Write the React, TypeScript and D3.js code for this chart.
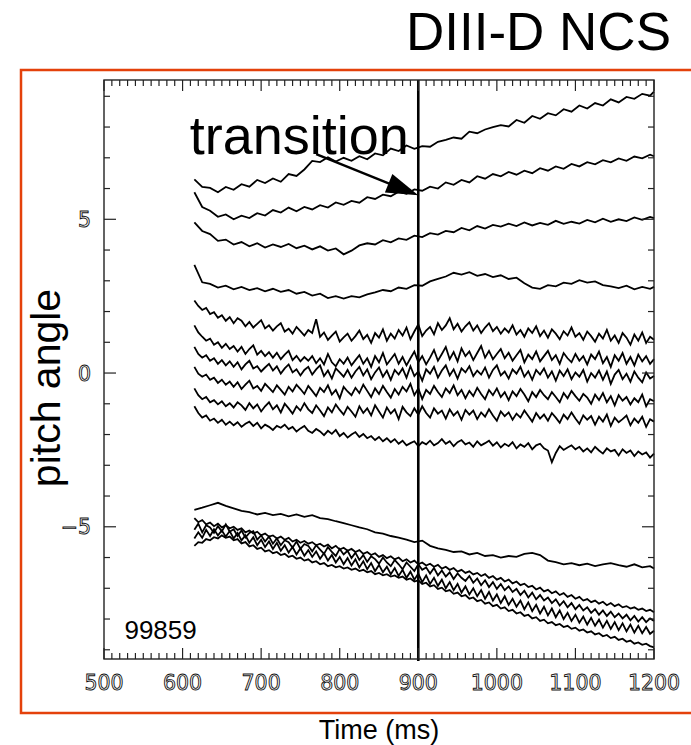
import React from 'react';
import * as d3 from 'd3';

// Time samples (ms)
const TIMES_10: number[] = [...d3.range(615, 1200, 10), 1200];
const TIMES_5: number[] = d3.range(615, 1201, 5);
const X_TICK_LABELS = [500, 600, 700, 800, 900, 1000, 1100, 1200];
const Y_TICK_LABELS = [-5, 0, 5];
const TRANSITION_TIME = 900;
const SHOT = '99859';

// Pitch-angle traces (deg), sampled every 10 ms
const TRACE_01 = [
  6.30, 6.05, 6.02, 5.88, 6.05, 5.96, 6.14, 6.06, 6.28, 6.18,
  6.33, 6.22, 6.47, 6.41, 6.62, 6.90, 6.86, 7.02, 6.88, 7.00,
  6.90, 7.05, 6.95, 7.14, 7.08, 7.30, 7.22, 7.40, 7.29, 7.38,
  7.36, 7.52, 7.58, 7.66, 7.62, 7.85, 7.80, 7.92, 8.00, 8.06,
  8.02, 8.23, 8.14, 8.36, 8.27, 8.45, 8.38, 8.58, 8.50, 8.70,
  8.60, 8.78, 8.70, 8.90, 8.80, 8.98, 8.92, 9.08, 9.02, 9.15,
];
const TRACE_02 = [
  5.88, 5.40, 5.28, 5.08, 5.16, 5.00, 5.12, 5.04, 5.20, 5.12,
  5.30, 5.22, 5.38, 5.26, 5.40, 5.32, 5.46, 5.38, 5.55, 5.47,
  5.60, 5.54, 5.72, 5.66, 5.80, 5.75, 5.90, 5.83, 5.97, 5.93,
  6.06, 6.00, 6.20, 6.12, 6.28, 6.20, 6.40, 6.32, 6.47, 6.40,
  6.54, 6.45, 6.58, 6.50, 6.66, 6.58, 6.72, 6.64, 6.80, 6.72,
  6.86, 6.79, 6.92, 6.85, 6.98, 6.90, 7.04, 6.98, 7.10, 7.05,
];
const TRACE_03 = [
  4.90, 4.62, 4.52, 4.30, 4.34, 4.18, 4.26, 4.12, 4.22, 4.08,
  4.18, 4.10, 4.20, 4.06, 4.14, 4.02, 4.12, 3.98, 4.05, 3.86,
  3.98, 4.15, 4.22, 4.18, 4.32, 4.25, 4.38, 4.33, 4.47, 4.42,
  4.55, 4.50, 4.62, 4.58, 4.72, 4.64, 4.78, 4.70, 4.82, 4.76,
  4.86, 4.78, 4.90, 4.80, 4.88, 4.82, 4.95, 4.85, 4.92, 4.86,
  4.98, 4.90, 5.02, 4.92, 5.00, 4.94, 5.06, 4.98, 5.08, 5.04,
];
const TRACE_04 = [
  3.52, 2.95, 2.90, 2.78, 2.84, 2.72, 2.80, 2.70, 2.76, 2.66,
  2.74, 2.64, 2.70, 2.58, 2.64, 2.52, 2.58, 2.44, 2.50, 2.42,
  2.50, 2.46, 2.56, 2.62, 2.70, 2.66, 2.78, 2.74, 2.86, 2.84,
  2.98, 3.06, 3.14, 3.26, 3.20, 3.28, 3.16, 3.22, 3.12, 3.18,
  3.06, 3.10, 2.92, 2.78, 2.74, 2.86, 2.82, 2.94, 2.90, 3.02,
  2.94, 2.98, 2.86, 2.82, 2.76, 2.84, 2.72, 2.80, 2.74, 2.80,
];
const TRACE_11 = [
  -4.45, -4.38, -4.30, -4.22, -4.32, -4.40, -4.48, -4.52, -4.60, -4.55,
  -4.62, -4.58, -4.66, -4.60, -4.68, -4.62, -4.72, -4.75, -4.82, -4.88,
  -4.95, -5.02, -5.08, -5.18, -5.22, -5.30, -5.35, -5.42, -5.50, -5.45,
  -5.62, -5.70, -5.75, -5.82, -5.80, -5.90, -5.85, -5.95, -5.92, -6.00,
  -5.95, -5.98, -5.88, -5.85, -5.92, -6.10, -6.15, -6.22, -6.18, -6.25,
  -6.20, -6.28, -6.22, -6.18, -6.25, -6.30, -6.22, -6.32, -6.28, -6.36,
];

// Noisier traces, sampled every 5 ms
const TRACE_05 = [
  2.36, 2.18, 2.05, 2.12, 1.92, 1.98, 1.80, 1.88, 1.70, 1.82,
  1.62, 1.78, 1.70, 1.52, 1.66, 1.48, 1.60, 1.72, 1.45, 1.55,
  1.38, 1.52, 1.62, 1.35, 1.44, 1.28, 1.50, 1.36, 1.22, 1.40,
  1.30, 1.75, 1.18, 1.32, 1.08, 1.22, 1.35, 1.02, 1.16, 1.28,
  1.05, 1.20, 1.38, 1.10, 1.24, 0.98, 1.30, 1.15, 1.42, 1.05,
  1.28, 1.12, 1.40, 1.22, 1.48, 1.10, 1.35, 1.58, 1.20, 1.38,
  1.50, 1.26, 1.62, 1.40, 1.55, 1.78, 1.42, 1.60, 1.35, 1.52,
  1.65, 1.38, 1.55, 1.30, 1.48, 1.62, 1.36, 1.50, 1.28, 1.45,
  1.32, 1.55, 1.25, 1.40, 1.18, 1.45, 1.30, 1.52, 1.20, 1.38,
  1.15, 1.42, 1.28, 1.10, 1.36, 1.22, 1.48, 1.18, 1.30, 1.08,
  1.35, 1.20, 1.02, 1.28, 1.12, 1.40, 1.05, 1.22, 0.98, 1.30,
  1.15, 0.92, 1.25, 1.05, 1.32, 0.98, 1.18, 1.08,
];
const TRACE_06 = [
  1.55, 1.32, 1.18, 1.05, 1.12, 0.92, 1.00, 0.82, 0.95, 0.78,
  0.88, 0.70, 0.85, 0.62, 0.78, 0.90, 0.60, 0.72, 0.55, 0.68,
  0.50, 0.66, 0.45, 0.60, 0.72, 0.42, 0.56, 0.38, 0.52, 0.40,
  0.55, 0.32, 0.48, 0.28, 0.62, 0.35, 0.22, 0.45, 0.30, 0.50,
  0.25, 0.42, 0.58, 0.30, 0.48, 0.20, 0.55, 0.35, 0.65, 0.28,
  0.45, 0.62, 0.30, 0.52, 0.25, 0.48, 0.70, 0.35, 0.55, 0.28,
  0.50, 0.75, 0.40, 0.62, 0.85, 0.45, 0.68, 0.38, 0.80, 0.55,
  0.70, 0.42, 0.65, 0.88, 0.50, 0.72, 0.45, 0.62, 0.78, 0.48,
  0.66, 0.40, 0.58, 0.75, 0.35, 0.60, 0.45, 0.70, 0.38, 0.55,
  0.72, 0.42, 0.58, 0.30, 0.65, 0.48, 0.35, 0.62, 0.40, 0.55,
  0.28, 0.60, 0.45, 0.70, 0.32, 0.52, 0.20, 0.58, 0.40, 0.65,
  0.30, 0.52, 0.25, 0.60, 0.38, 0.55, 0.30, 0.45,
];
const TRACE_07 = [
  0.85, 0.62, 0.50, 0.58, 0.40, 0.48, 0.30, 0.42, 0.25, 0.38,
  0.20, 0.35, 0.12, 0.28, 0.40, 0.15, 0.22, 0.05, 0.18, 0.30,
  0.08, 0.22, -0.02, 0.15, 0.28, 0.02, 0.12, -0.08, 0.10, 0.20,
  -0.05, 0.12, 0.25, -0.10, 0.08, -0.18, 0.15, 0.02, -0.12, 0.10,
  -0.15, 0.05, 0.20, -0.08, 0.12, -0.20, 0.02, 0.18, -0.12, 0.08,
  -0.22, 0.10, -0.05, 0.15, -0.15, 0.22, -0.10, 0.05, -0.25, 0.12,
  -0.02, 0.20, -0.15, 0.08, 0.25, -0.08, 0.12, -0.18, 0.15, 0.02,
  0.22, -0.10, 0.08, -0.05, 0.18, -0.15, 0.10, 0.25, -0.08, 0.05,
  -0.18, 0.12, -0.02, 0.20, -0.12, 0.06, -0.22, 0.10, -0.05, 0.15,
  -0.15, 0.05, -0.25, 0.08, -0.10, 0.12, -0.20, 0.02, -0.12, 0.10,
  -0.28, 0.00, -0.15, 0.08, -0.22, 0.05, -0.35, -0.05, 0.10, -0.20,
  -0.02, -0.28, 0.05, -0.15, -0.30, 0.02, -0.18, -0.10,
];
const TRACE_08 = [
  0.20, -0.02, -0.12, -0.05, -0.22, -0.15, -0.32, -0.22, -0.38, -0.28,
  -0.45, -0.30, -0.52, -0.38, -0.25, -0.50, -0.42, -0.58, -0.35, -0.48,
  -0.62, -0.40, -0.55, -0.70, -0.45, -0.60, -0.38, -0.52, -0.68, -0.42,
  -0.58, -0.75, -0.48, -0.62, -0.40, -0.70, -0.55, -0.82, -0.45, -0.60,
  -0.72, -0.48, -0.65, -0.38, -0.58, -0.78, -0.50, -0.68, -0.42, -0.62,
  -0.80, -0.52, -0.70, -0.45, -0.60, -0.35, -0.72, -0.50, -0.85, -0.55,
  -0.68, -0.42, -0.62, -0.78, -0.50, -0.65, -0.40, -0.72, -0.55, -0.82,
  -0.58, -0.75, -0.48, -0.68, -0.85, -0.55, -0.72, -0.50, -0.78, -0.62,
  -0.88, -0.60, -0.75, -0.52, -0.70, -0.92, -0.62, -0.78, -0.55, -0.72,
  -0.85, -0.62, -0.78, -0.95, -0.65, -0.82, -0.58, -0.75, -0.90, -0.68,
  -0.80, -1.00, -0.70, -0.88, -0.65, -0.95, -0.75, -1.05, -0.72, -0.90,
  -0.78, -1.02, -0.82, -0.95, -0.70, -1.08, -0.85, -0.92,
];
const TRACE_09 = [
  -0.50, -0.72, -0.85, -0.78, -0.95, -0.88, -1.02, -0.92, -1.08, -0.98,
  -1.12, -0.95, -1.05, -1.20, -0.98, -1.15, -1.02, -1.25, -1.08, -0.95,
  -1.18, -1.05, -1.28, -1.00, -1.15, -1.32, -1.08, -1.22, -0.98, -1.18,
  -1.30, -1.05, -1.22, -1.40, -1.12, -1.28, -1.02, -1.20, -1.35, -1.10,
  -1.25, -1.42, -1.08, -1.30, -1.15, -1.38, -1.05, -1.25, -1.45, -1.12,
  -1.32, -1.18, -1.50, -1.10, -1.28, -1.40, -1.15, -1.35, -1.08, -1.30,
  -1.45, -1.15, -1.32, -1.22, -1.48, -1.18, -1.38, -1.25, -1.52, -1.20,
  -1.35, -1.22, -1.50, -1.28, -1.42, -1.18, -1.38, -1.55, -1.25, -1.40,
  -1.28, -1.52, -1.32, -1.45, -1.22, -1.40, -1.58, -1.30, -1.48, -1.35,
  -1.55, -1.30, -1.45, -1.62, -1.35, -1.50, -1.28, -1.48, -1.65, -1.38,
  -1.52, -1.40, -1.68, -1.42, -1.58, -1.35, -1.72, -1.45, -1.60, -1.50,
  -1.38, -1.70, -1.48, -1.62, -1.42, -1.75, -1.50, -1.58,
];
const TRACE_10 = [
  -1.08, -1.30, -1.45, -1.38, -1.55, -1.48, -1.62, -1.52, -1.68, -1.58,
  -1.70, -1.60, -1.75, -1.65, -1.58, -1.72, -1.62, -1.80, -1.68, -1.75,
  -1.85, -1.72, -1.78, -1.68, -1.82, -1.75, -1.90, -1.80, -1.72, -1.88,
  -1.95, -1.82, -1.90, -2.02, -1.88, -1.98, -1.85, -2.05, -1.95, -2.10,
  -2.00, -1.92, -2.08, -1.98, -2.12, -2.05, -2.18, -2.08, -2.22, -2.12,
  -2.25, -2.15, -2.30, -2.20, -2.35, -2.28, -2.22, -2.38, -2.25, -2.32,
  -2.20, -2.35, -2.28, -2.15, -2.30, -2.22, -2.38, -2.25, -2.18, -2.32,
  -2.26, -2.40, -2.22, -2.35, -2.28, -2.20, -2.36, -2.25, -2.42, -2.30,
  -2.38, -2.25, -2.45, -2.32, -2.40, -2.28, -2.48, -2.35, -2.30, -2.45,
  -2.52, -2.90, -2.60, -2.38, -2.50, -2.42, -2.35, -2.48, -2.40, -2.55,
  -2.45, -2.58, -2.40, -2.52, -2.62, -2.45, -2.55, -2.50, -2.68, -2.48,
  -2.60, -2.52, -2.70, -2.55, -2.65, -2.58, -2.75, -2.62,
];
const TRACE_12 = [
  -4.72, -4.85, -4.78, -4.92, -4.86, -4.98, -4.90, -5.02, -4.95, -5.05,
  -5.00, -5.10, -5.05, -5.18, -5.12, -5.22, -5.16, -5.28, -5.22, -5.32,
  -5.28, -5.38, -5.32, -5.42, -5.36, -5.48, -5.42, -5.52, -5.46, -5.55,
  -5.50, -5.60, -5.55, -5.64, -5.58, -5.70, -5.62, -5.74, -5.68, -5.78,
  -5.72, -5.82, -5.76, -5.88, -5.82, -5.92, -5.86, -5.98, -5.92, -6.02,
  -5.96, -6.06, -6.00, -6.12, -6.06, -6.16, -6.10, -6.22, -6.16, -6.26,
  -6.20, -6.30, -6.24, -6.36, -6.30, -6.40, -6.34, -6.46, -6.40, -6.50,
  -6.45, -6.55, -6.50, -6.60, -6.54, -6.66, -6.60, -6.72, -6.66, -6.78,
  -6.72, -6.84, -6.78, -6.90, -6.85, -6.96, -6.92, -7.04, -6.98, -7.10,
  -7.05, -7.16, -7.10, -7.22, -7.16, -7.28, -7.22, -7.34, -7.28, -7.40,
  -7.35, -7.45, -7.40, -7.50, -7.44, -7.55, -7.48, -7.58, -7.52, -7.62,
  -7.58, -7.66, -7.62, -7.70, -7.66, -7.74, -7.70, -7.78,
];
const TRACE_13 = [
  -5.10, -4.90, -5.18, -4.95, -5.02, -5.20, -4.98, -5.15, -4.92, -5.16,
  -5.08, -5.30, -5.12, -5.35, -5.20, -5.14, -5.42, -5.28, -5.48, -5.32,
  -5.55, -5.38, -5.60, -5.44, -5.50, -5.68, -5.48, -5.72, -5.56, -5.62,
  -5.80, -5.60, -5.74, -5.88, -5.66, -5.82, -5.95, -5.72, -5.90, -5.78,
  -6.02, -5.84, -6.08, -5.92, -6.14, -5.96, -6.05, -6.20, -6.00, -6.16,
  -6.28, -6.08, -6.22, -6.38, -6.16, -6.30, -6.44, -6.22, -6.40, -6.32,
  -6.52, -6.34, -6.58, -6.42, -6.62, -6.48, -6.70, -6.52, -6.66, -6.76,
  -6.60, -6.82, -6.68, -6.90, -6.74, -6.96, -6.80, -7.02, -6.86, -7.06,
  -6.94, -7.12, -7.02, -7.22, -7.08, -7.30, -7.14, -7.36, -7.22, -7.40,
  -7.30, -7.48, -7.36, -7.56, -7.42, -7.62, -7.48, -7.68, -7.54, -7.72,
  -7.62, -7.80, -7.68, -7.86, -7.72, -7.90, -7.76, -7.94, -7.82, -7.98,
  -7.86, -8.04, -7.90, -8.08, -7.94, -8.10, -7.98, -8.06,
];
const TRACE_14 = [
  -5.38, -5.18, -5.36, -5.10, -5.30, -5.08, -5.28, -5.12, -5.32, -5.14,
  -5.38, -5.20, -5.44, -5.28, -5.52, -5.34, -5.60, -5.42, -5.66, -5.48,
  -5.72, -5.52, -5.78, -5.60, -5.84, -5.66, -5.90, -5.70, -5.94, -5.76,
  -5.98, -5.80, -6.04, -5.86, -6.10, -5.92, -6.16, -5.98, -6.22, -6.02,
  -6.26, -6.06, -6.32, -6.12, -6.38, -6.18, -6.44, -6.24, -6.48, -6.30,
  -6.54, -6.34, -6.60, -6.40, -6.66, -6.46, -6.72, -6.52, -6.80, -6.58,
  -6.86, -6.66, -6.92, -6.72, -7.00, -6.80, -7.06, -6.86, -7.14, -6.94,
  -7.20, -7.00, -7.26, -7.06, -7.34, -7.12, -7.40, -7.20, -7.48, -7.26,
  -7.54, -7.34, -7.60, -7.40, -7.68, -7.46, -7.74, -7.54, -7.82, -7.60,
  -7.88, -7.66, -7.94, -7.72, -8.00, -7.80, -8.06, -7.86, -8.12, -7.92,
  -8.18, -7.96, -8.22, -8.02, -8.28, -8.06, -8.32, -8.10, -8.36, -8.14,
  -8.40, -8.18, -8.44, -8.22, -8.46, -8.26, -8.48, -8.38,
];
const TRACE_15 = [
  -5.62, -5.50, -5.52, -5.40, -5.44, -5.34, -5.38, -5.28, -5.36, -5.32,
  -5.44, -5.40, -5.54, -5.50, -5.64, -5.60, -5.72, -5.68, -5.80, -5.76,
  -5.86, -5.82, -5.92, -5.88, -5.98, -5.94, -6.04, -6.00, -6.10, -6.06,
  -6.16, -6.12, -6.22, -6.18, -6.28, -6.24, -6.32, -6.28, -6.36, -6.32,
  -6.40, -6.36, -6.44, -6.40, -6.48, -6.44, -6.54, -6.50, -6.58, -6.54,
  -6.62, -6.58, -6.66, -6.62, -6.72, -6.68, -6.78, -6.74, -6.86, -6.82,
  -6.94, -6.90, -7.02, -6.98, -7.10, -7.06, -7.18, -7.14, -7.26, -7.22,
  -7.34, -7.30, -7.42, -7.38, -7.50, -7.46, -7.58, -7.54, -7.66, -7.62,
  -7.74, -7.70, -7.82, -7.78, -7.90, -7.86, -7.98, -7.94, -8.06, -8.02,
  -8.14, -8.10, -8.20, -8.16, -8.26, -8.22, -8.32, -8.28, -8.38, -8.34,
  -8.44, -8.40, -8.50, -8.46, -8.56, -8.52, -8.62, -8.58, -8.68, -8.64,
  -8.74, -8.70, -8.80, -8.76, -8.84, -8.80, -8.88, -8.92,
];

const TRACES_10 = [TRACE_01, TRACE_02, TRACE_03, TRACE_04, TRACE_11];
const TRACES_5 = [TRACE_05, TRACE_06, TRACE_07, TRACE_08, TRACE_09, TRACE_10, TRACE_12, TRACE_13, TRACE_14, TRACE_15];

const W = 691;
const H = 745;
const SANS = '"Liberation Sans", Arial, Helvetica, sans-serif';
const TICKFONT = '"DejaVu Sans", Verdana, sans-serif';

export default function App() {
  const x = d3.scaleLinear().domain([500, 1200]).range([104, 654]);
  const y = d3.scaleLinear().domain([-9.3, 9.53]).range([659, 80]);
  const [x0, x1] = x.range();
  const [yb, yt] = y.range();

  const makeLine = (times: number[]) => (vals: number[]) =>
    d3
      .line<number>()
      .x((_, i) => x(times[i]))
      .y((d) => y(d))(vals.slice(0, times.length)) || '';
  const line10 = makeLine(TIMES_10);
  const line5 = makeLine(TIMES_5);

  const xTicks = d3.range(500, 1201, 10);
  const yTicks = d3.range(-9, 10, 1);

  const aStart: [number, number] = [x(770), y(7.12)];
  const aTip: [number, number] = [x(TRANSITION_TIME), y(5.78)];
  const dx = aTip[0] - aStart[0];
  const dy = aTip[1] - aStart[1];
  const len = Math.hypot(dx, dy);
  const ux = dx / len, uy = dy / len;
  const headL = 32, headW = 10;
  const bx = aTip[0] - ux * headL, by = aTip[1] - uy * headL;
  const head = [
    [aTip[0], aTip[1]],
    [bx - uy * headW, by + ux * headW],
    [bx + uy * headW, by - ux * headW],
  ]
    .map((p) => p.join(','))
    .join(' ');

  return (
    <svg
      width={W}
      height={H}
      viewBox={`0 0 ${W} ${H}`}
      style={{ position: 'absolute', left: 0, top: 0, background: '#fff' }}
    >
      <rect x={0} y={0} width={W} height={H} fill="#fff" />
      <text x={671} y={50} textAnchor="end" fontFamily={SANS} fontSize={53} fill="#000">
        DIII-D NCS
      </text>
      <rect x={21} y={70} width={720} height={643} fill="none" stroke="#e4410b" strokeWidth={2.5} />

      <g fill="none" stroke="#000" strokeWidth={1.8} strokeLinejoin="miter">
        {TRACES_10.map((t, i) => (
          <path key={`a${i}`} d={line10(t)} />
        ))}
        {TRACES_5.map((t, i) => (
          <path key={`b${i}`} d={line5(t)} />
        ))}
      </g>

      <line x1={x(TRANSITION_TIME)} x2={x(TRANSITION_TIME)} y1={yt} y2={yb + 2} stroke="#000" strokeWidth={2.6} />

      <rect x={x0} y={yt} width={x1 - x0} height={yb - yt} fill="none" stroke="#222" strokeWidth={1.4} />

      <g stroke="#222" strokeWidth={1.2}>
        {xTicks.map((t) => {
          const L = t % 100 === 0 ? 11 : 6;
          return (
            <g key={t}>
              <line x1={x(t)} x2={x(t)} y1={yb} y2={yb - L} />
              <line x1={x(t)} x2={x(t)} y1={yt} y2={yt + L} />
            </g>
          );
        })}
        {yTicks.map((v) => {
          const L = v % 5 === 0 ? 12 : 6;
          return (
            <g key={v}>
              <line x1={x0} x2={x0 + L} y1={y(v)} y2={y(v)} />
              <line x1={x1} x2={x1 - L} y1={y(v)} y2={y(v)} />
            </g>
          );
        })}
      </g>

      <g fontFamily={TICKFONT} fontSize={20.5} fill="none" stroke="#111" strokeWidth={0.9}>
        {X_TICK_LABELS.map((t) => (
          <text key={t} x={x(t)} y={690} textAnchor="middle">
            {t}
          </text>
        ))}
        {Y_TICK_LABELS.map((v) => (
          <text key={v} x={91} y={y(v) + 7.5} textAnchor="end">
            {v < 0 ? `\u2212${Math.abs(v)}` : `${v}`}
          </text>
        ))}
      </g>

      <text
        transform={`translate(60, 388) rotate(-90)`}
        textAnchor="middle"
        fontFamily={SANS}
        fontSize={41}
        fill="#000"
      >
        pitch angle
      </text>
      <text x={(x0 + x1) / 2} y={739} textAnchor="middle" fontFamily={SANS} fontSize={27} fill="#000">
        Time (ms)
      </text>

      <text x={x(609)} y={y(7.12)} fontFamily={SANS} fontSize={54} fill="#000">
        transition
      </text>
      <line x1={aStart[0]} y1={aStart[1]} x2={bx + ux * 4} y2={by + uy * 4} stroke="#000" strokeWidth={2.4} />
      <polygon points={head} fill="#000" />
      <text x={x(526)} y={y(-8.65)} fontFamily={SANS} fontSize={26} fill="#000">
        {SHOT}
      </text>
    </svg>
  );
}
